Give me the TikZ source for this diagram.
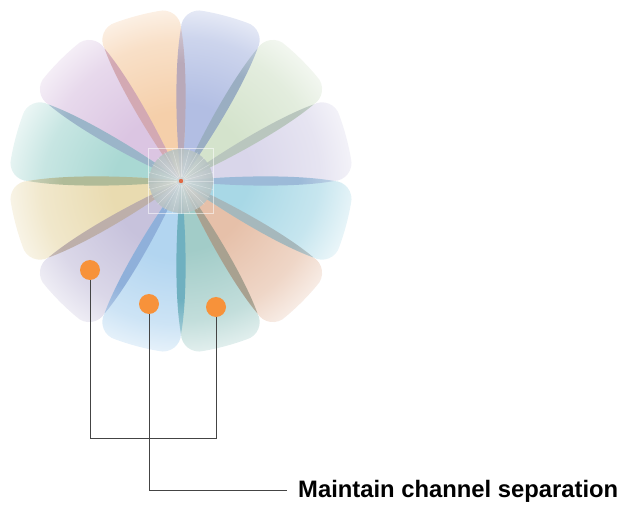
\documentclass[tikz,border=0pt]{standalone}
\usepackage{fontspec}
\setmainfont{Liberation Sans}
\definecolor{petalc}{HTML}{FFFFFF}
\definecolor{bladec}{HTML}{FFFFFF}
\pgfdeclareradialshading[petalc]{petalshade}{\pgfpoint{0bp}{0bp}}{color(0bp)=(petalc); color(9bp)=(petalc); color(18bp)=(petalc!65!white); color(25bp)=(petalc!8!white); color(50bp)=(white)}
\pgfdeclareradialshading[bladec]{bladeshade}{\pgfpoint{0bp}{0bp}}{color(0bp)=(bladec); color(17bp)=(bladec); color(25bp)=(bladec!45!white); color(50bp)=(white)}
% petal colours
\definecolor{pA}{HTML}{D9D6EA}
\definecolor{pB}{HTML}{D4E3CC}
\definecolor{pC}{HTML}{B2BEE3}
\definecolor{pD}{HTML}{F5CFAA}
\definecolor{pE}{HTML}{DBC5E2}
\definecolor{pF}{HTML}{A9D8D3}
\definecolor{pG}{HTML}{E9DBB0}
\definecolor{pH}{HTML}{C7C2DC}
\definecolor{pI}{HTML}{B2D5F0}
\definecolor{pJ}{HTML}{A2CCC8}
\definecolor{pK}{HTML}{E6C0A9}
\definecolor{pL}{HTML}{A8D8E6}
% blade colours
\definecolor{bA}{HTML}{9CBAD8}
\definecolor{bB}{HTML}{B9C6BE}
\definecolor{bC}{HTML}{9AAEC2}
\definecolor{bD}{HTML}{B9A9B9}
\definecolor{bE}{HTML}{D3A9B3}
\definecolor{bF}{HTML}{9BB5C9}
\definecolor{bG}{HTML}{B0BB98}
\definecolor{bH}{HTML}{BDAFAA}
\definecolor{bI}{HTML}{8FB0DA}
\definecolor{bJ}{HTML}{6FB0C0}
\definecolor{bK}{HTML}{A8A190}
\definecolor{bL}{HTML}{A6B8BC}
\definecolor{dotorange}{HTML}{F7923A}
\definecolor{lineclr}{HTML}{444444}
\definecolor{sphin}{HTML}{D6DDDD}
\definecolor{sphout}{HTML}{B6C2C3}
\definecolor{centerdot}{HTML}{E06A45}
\begin{document}
\begin{tikzpicture}[x=1pt,y=1pt,
  dotstyle/.style={circle, fill=dotorange, draw=none, minimum size=20pt, inner sep=0pt},
  conn/.style={draw=lineclr, line width=1pt},
  captext/.style={font=\fontsize{23.8}{28}\selectfont\bfseries, anchor=base west, inner sep=0pt, text=black}]
\useasboundingbox (0,0) rectangle (623,506);
\coordinate (C) at (181,325);
% petals
\foreach \a/\c in {15/pA,45/pB,75/pC,105/pD,135/pE,165/pF,195/pG,225/pH,255/pI,285/pJ,315/pK,345/pL}{
  \colorlet{petalc}{\c}
  \path[shift={(C)}, rotate=\a, path picture={\shade[shading=petalshade] (C) circle (175pt);}]
   (0,0) .. controls (58,-22.5) and (118,-35.5) .. (147.3,-39.5)
         .. controls (158.7,-42.6) and (170,-33.9) .. (170,-22.1)
         .. controls (171.3,-8) and (171.3,8) .. (170,22.1)
         .. controls (170,33.9) and (158.7,42.6) .. (147.3,39.5)
         .. controls (118,35.5) and (58,22.5) .. (0,0) -- cycle;
}
% blades (overlaps)
\foreach \a/\c in {0/bA,30/bB,60/bC,90/bD,120/bE,150/bF,180/bG,210/bH,240/bI,270/bJ,300/bK,330/bL}{
  \colorlet{bladec}{\c}
  \path[shift={(C)}, rotate=\a, path picture={\shade[shading=bladeshade] (C) circle (175pt);}]
   (0,0) .. controls (58,6.3) and (120,6) .. (153,0)
         .. controls (120,-6) and (58,-6.3) .. (0,0) -- cycle;
}
% centre sphere
\shade[inner color=sphin, outer color=sphout, fill opacity=0.88] (C) circle (32pt);
\foreach \t in {0,15,...,345}
  \draw[shift={(C)}, white, opacity=0.35, line width=0.5pt] (\t:4) -- (\t:33);
\draw[white, opacity=0.55, line width=0.6pt] ([shift={(-32.5,-32.5)}]C) rectangle ([shift={(32.5,32.5)}]C);
\fill[centerdot] (C) circle (2.2pt);
% dots and connectors
\node[dotstyle] (d1) at (90,236) {};
\node[dotstyle] (d2) at (149,202) {};
\node[dotstyle] (d3) at (216,199) {};
\coordinate (j1) at (90,68);
\coordinate (j2) at (149,16);
\coordinate (e2) at (287,16);
\draw[conn] (d1.south) -- (j1) -| (d3.south);
\draw[conn] (d2.south) -- (j2) -- (e2);
\node[captext] (t) at (298,9) {Maintain channel separation};
\end{tikzpicture}
\end{document}
